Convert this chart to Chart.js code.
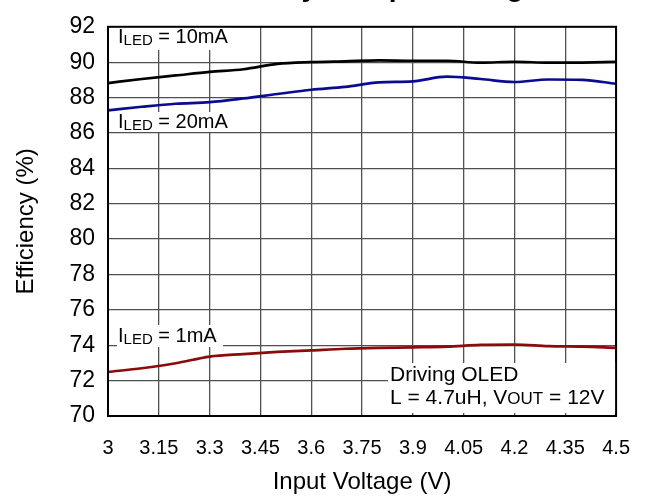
<!DOCTYPE html>
<html>
<head>
<meta charset="utf-8">
<script src="https://cdn.jsdelivr.net/npm/chart.js@4.4.1/dist/chart.umd.min.js"></script>
<style>
  html, body { margin: 0; padding: 0; background: #fff; }
</style>
</head>
<body>
<canvas id="eff-chart" width="650" height="497"></canvas>
<script>
// input voltage (V) of each measured point
var vin = [3.0, 3.1, 3.2, 3.3, 3.4, 3.5, 3.6, 3.7, 3.8, 3.9, 4.0, 4.1, 4.2, 4.3, 4.4, 4.5];
// efficiency (%) per LED current
var eff10mA = [88.82, 89.05, 89.25, 89.45, 89.6, 89.9, 90.0, 90.05, 90.1, 90.08, 90.08, 89.97, 90.02, 89.97, 89.98, 90.02];
var eff20mA = [87.28, 87.48, 87.65, 87.74, 87.95, 88.2, 88.44, 88.6, 88.86, 88.92, 89.18, 89.05, 88.88, 89.02, 89.0, 88.78];
var eff1mA = [72.49, 72.7, 72.98, 73.36, 73.5, 73.62, 73.71, 73.8, 73.85, 73.88, 73.92, 74.02, 74.04, 73.95, 73.92, 73.85];

var xTicks = [3, 3.15, 3.3, 3.45, 3.6, 3.75, 3.9, 4.05, 4.2, 4.35, 4.5];
var yTicks = [70, 72, 74, 76, 78, 80, 82, 84, 86, 88, 90, 92];

var FONT = '"Liberation Sans", Arial, sans-serif';

function points(ys) {
    return vin.map(function (v, i) { return { x: v, y: ys[i] }; });
}

// text with smaller subscript parts (I_LED, V_OUT)
function drawRich(ctx, x, y, parts) {
    parts.forEach(function (p) {
        ctx.font = p.size + 'px ' + FONT;
        ctx.fillText(p.text, x, y + (p.dy || 0));
        x += ctx.measureText(p.text).width;
    });
}

var notes = {
    id: 'notes',
    beforeDatasetsDraw: function (chart) {
        var ctx = chart.ctx;
        ctx.save();
        ctx.fillStyle = '#fff';
        ctx.fillRect(113, 25, 120, 25);
        ctx.fillRect(117, 112, 116, 20);
        ctx.fillRect(117, 325, 106, 22);
        ctx.fillRect(388, 363, 230, 50);
        ctx.fillStyle = '#000';
        ctx.textBaseline = 'alphabetic';
        ctx.textAlign = 'left';
        drawRich(ctx, 118, 43, [{ text: 'I', size: 20 }, { text: 'LED', size: 15, dy: 1.5 }, { text: ' = 10mA', size: 20 }]);
        drawRich(ctx, 118, 128, [{ text: 'I', size: 20 }, { text: 'LED', size: 15, dy: 1.5 }, { text: ' = 20mA', size: 20 }]);
        drawRich(ctx, 118, 342, [{ text: 'I', size: 20 }, { text: 'LED', size: 15, dy: 1.5 }, { text: ' = 1mA', size: 20 }]);
        drawRich(ctx, 390, 381, [{ text: 'Driving OLED', size: 21 }]);
        drawRich(ctx, 390, 404, [{ text: 'L = 4.7uH, V', size: 21 }, { text: 'OUT', size: 17 }, { text: ' = 12V', size: 21 }]);
        ctx.restore();
    },
    afterDraw: function (chart) {
        var ctx = chart.ctx, a = chart.chartArea;
        ctx.save();
        ctx.strokeStyle = '#000';
        ctx.lineWidth = 2;
        ctx.strokeRect(a.left, a.top, a.right - a.left, a.bottom - a.top);
        // title, mostly cut off by the top edge
        ctx.font = 'bold 28px ' + FONT;
        ctx.textAlign = 'center';
        ctx.textBaseline = 'alphabetic';
        ctx.fillStyle = '#000';
        ctx.fillText('Efficiency vs Input Voltage', 362, -4);
        ctx.restore();
    }
};

var ctx = document.getElementById('eff-chart').getContext('2d');
var myChart = new Chart(ctx, {
    type: 'line',
    data: {
        datasets: [
            { label: 'ILED = 10mA', data: points(eff10mA), borderColor: '#000000', borderWidth: 2.7 },
            { label: 'ILED = 20mA', data: points(eff20mA), borderColor: '#0b0b8f', borderWidth: 2.7 },
            { label: 'ILED = 1mA', data: points(eff1mA), borderColor: '#8c0a0a', borderWidth: 2.7 }
        ]
    },
    options: {
        responsive: false,
        animation: false,
        layout: { padding: { top: 17, right: 32, bottom: 0, left: 0 } },
        elements: {
            point: { radius: 0 },
            line: { cubicInterpolationMode: 'monotone', fill: false }
        },
        plugins: {
            legend: { display: false },
            tooltip: { enabled: false }
        },
        scales: {
            x: {
                type: 'linear',
                min: 3,
                max: 4.5,
                afterBuildTicks: function (scale) {
                    scale.ticks = xTicks.map(function (v) { return { value: v }; });
                },
                afterFit: function (scale) { scale.height = 81; },
                ticks: {
                    font: { family: FONT, size: 20 },
                    color: '#000',
                    padding: 20,
                    maxRotation: 0,
                    autoSkip: false,
                    callback: function (v) { return String(v); }
                },
                grid: { color: '#505050', lineWidth: 1.3, drawTicks: false },
                border: { color: '#000', width: 2 },
                title: {
                    display: true,
                    text: 'Input Voltage (V)',
                    font: { family: FONT, size: 24 },
                    color: '#000',
                    padding: { top: 0, bottom: 0 }
                }
            },
            y: {
                min: 70,
                max: 92,
                afterBuildTicks: function (scale) {
                    scale.ticks = yTicks.map(function (v) { return { value: v }; });
                },
                afterFit: function (scale) { scale.width = 108; },
                ticks: {
                    font: { family: FONT, size: 23 },
                    color: '#000',
                    padding: 13
                },
                grid: { color: '#505050', lineWidth: 1.3, drawTicks: false },
                border: { color: '#000', width: 2 },
                title: {
                    display: true,
                    text: 'Efficiency (%)',
                    font: { family: FONT, size: 24 },
                    color: '#000',
                    padding: { top: 12, bottom: 0 }
                }
            }
        }
    },
    plugins: [notes]
});
</script>
</body>
</html>
